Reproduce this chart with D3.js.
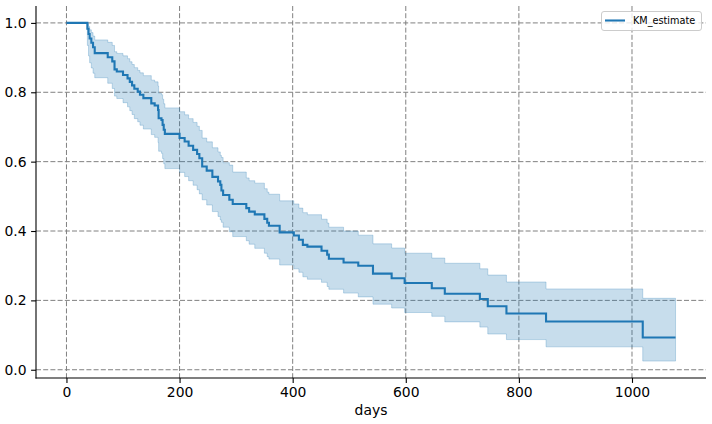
<!DOCTYPE html>
<html>
<head>
<meta charset="utf-8">
<script src="https://cdn.jsdelivr.net/npm/d3@7"></script>
<style>
  body { margin: 0; background: #fff; }
  svg { display: block; font-family: "DejaVu Sans", sans-serif; }
</style>
</head>
<body>
<svg id="drawing_region"></svg>
<script>
// KM estimate, step times (days) with survival and confidence band
var times = [0, 37, 39, 41, 44, 47, 50, 73, 81, 85, 89, 100, 108, 112, 116, 120, 126, 130, 136,
    150, 156, 162, 163, 168, 170, 172, 174, 200, 209, 216, 224, 231, 235, 240, 248, 258,
    268, 272, 274, 277, 288, 294, 318, 323, 333, 350, 355, 358, 377, 402, 411, 418, 426,
    451, 461, 464, 490, 516, 542, 575, 598, 646, 669, 731, 745, 778, 848, 1019];
var survival = [1.0, 0.983, 0.968, 0.955, 0.943, 0.930, 0.913, 0.901, 0.889, 0.866, 0.860, 0.850,
    0.840, 0.830, 0.820, 0.810, 0.802, 0.793, 0.783, 0.768, 0.762, 0.749, 0.725, 0.720, 0.706,
    0.692, 0.680, 0.668, 0.658, 0.646, 0.634, 0.622, 0.610, 0.586, 0.574, 0.556, 0.543, 0.533,
    0.517, 0.504, 0.490, 0.478, 0.466, 0.456, 0.448, 0.435, 0.424, 0.415, 0.396, 0.387, 0.375,
    0.360, 0.355, 0.343, 0.332, 0.320, 0.309, 0.300, 0.277, 0.264, 0.250, 0.235, 0.219, 0.204,
    0.183, 0.162, 0.139, 0.093];
var ciUpper = [1.0, 0.998, 0.990, 0.980, 0.972, 0.962, 0.951, 0.944, 0.935, 0.917, 0.912, 0.905,
    0.897, 0.888, 0.880, 0.871, 0.863, 0.856, 0.848, 0.835, 0.830, 0.818, 0.797, 0.793, 0.780,
    0.767, 0.755, 0.744, 0.735, 0.724, 0.713, 0.702, 0.690, 0.668, 0.657, 0.640, 0.628, 0.618,
    0.612, 0.597, 0.590, 0.570, 0.553, 0.545, 0.538, 0.522, 0.512, 0.506, 0.487, 0.478, 0.466,
    0.453, 0.447, 0.434, 0.423, 0.411, 0.400, 0.388, 0.363, 0.351, 0.336, 0.322, 0.307, 0.291,
    0.273, 0.253, 0.233, 0.206];
var ciLower = [1.0, 0.935, 0.905, 0.885, 0.870, 0.855, 0.842, 0.826, 0.811, 0.789, 0.782, 0.770,
    0.758, 0.747, 0.736, 0.724, 0.715, 0.705, 0.694, 0.678, 0.670, 0.655, 0.630, 0.624, 0.609,
    0.594, 0.580, 0.569, 0.557, 0.545, 0.532, 0.519, 0.507, 0.490, 0.475, 0.456, 0.442, 0.432,
    0.425, 0.411, 0.398, 0.384, 0.372, 0.362, 0.350, 0.336, 0.326, 0.319, 0.302, 0.291, 0.281,
    0.268, 0.261, 0.252, 0.240, 0.232, 0.221, 0.210, 0.189, 0.178, 0.165, 0.154, 0.138, 0.123,
    0.103, 0.087, 0.066, 0.025];
var endTime = 1077;

var xTicks = [0, 200, 400, 600, 800, 1000];
var yTicks = [0.0, 0.2, 0.4, 0.6, 0.8, 1.0];

var width = 712;
var height = 424;
var box = {left: 36, right: 706, top: 6, bottom: 378};

var svg = d3.select('#drawing_region')
    .attr('width', width)
    .attr('height', height);

const xscale = d3.scaleLinear()
      .domain([-53.85, 1130.85])
      .range([box.left, box.right]);

const yscale = d3.scaleLinear()
      .domain([-0.0238, 1.04875])
      .range([box.bottom, box.top]);

var rows = times.map((t, i) => ({t: t, s: survival[i], u: ciUpper[i], l: ciLower[i]}));
var last = rows[rows.length - 1];
rows.push({t: endTime, s: last.s, u: last.u, l: last.l});

// grid
svg.append('g').selectAll('line')
    .data(yTicks).join('line')
    .attr('x1', box.left).attr('x2', box.right)
    .attr('y1', d => yscale(d)).attr('y2', d => yscale(d))
    .attr('stroke', '#808080').attr('stroke-width', 1)
    .attr('stroke-dasharray', '5,2.2');
svg.append('g').selectAll('line')
    .data(xTicks).join('line')
    .attr('y1', box.top).attr('y2', box.bottom)
    .attr('x1', d => xscale(d)).attr('x2', d => xscale(d))
    .attr('stroke', '#808080').attr('stroke-width', 1)
    .attr('stroke-dasharray', '5,2.2');

// confidence band
const band = d3.area()
      .curve(d3.curveStepAfter)
      .x(d => xscale(d.t))
      .y0(d => yscale(d.l))
      .y1(d => yscale(d.u));

svg.append('path')
    .attr('d', band(rows))
    .attr('fill', '#1f77b4')
    .attr('fill-opacity', 0.25)
    .attr('stroke', '#1f77b4')
    .attr('stroke-opacity', 0.25)
    .attr('stroke-width', 1);

// estimate
const line = d3.line()
      .curve(d3.curveStepAfter)
      .x(d => xscale(d.t))
      .y(d => yscale(d.s));

svg.append('path')
    .attr('d', line(rows))
    .attr('stroke', '#1f77b4')
    .attr('stroke-width', 2.1)
    .attr('fill', 'none');

// axes
const xaxis = d3.axisBottom(xscale)
      .tickValues(xTicks)
      .tickFormat(d3.format('d'))
      .tickSize(4.9)
      .tickPadding(4.5)
      .tickSizeOuter(0);

const yaxis = d3.axisLeft(yscale)
      .tickValues(yTicks)
      .tickFormat(d3.format('.1f'))
      .tickSize(4.9)
      .tickPadding(4.5)
      .tickSizeOuter(0);

const xaxis_group = svg.append('g')
      .attr('transform', `translate(0, ${box.bottom})`)
      .call(xaxis);

const yaxis_group = svg.append('g')
      .attr('transform', `translate(${box.left}, 0)`)
      .call(yaxis);

[xaxis_group, yaxis_group].forEach(g => {
    g.selectAll('text')
        .attr('fill', '#000')
        .style('font-family', '"DejaVu Sans", sans-serif')
        .style('font-size', '13.9px');
    g.selectAll('line').attr('stroke', '#000').attr('stroke-width', 1.1);
    g.select('.domain').remove();
});

// spines (left and bottom only)
svg.append('line')
    .attr('x1', box.left).attr('x2', box.left)
    .attr('y1', box.top).attr('y2', box.bottom + 0.5)
    .attr('stroke', '#000').attr('stroke-width', 1.1);
svg.append('line')
    .attr('x1', box.left - 0.5).attr('x2', box.right)
    .attr('y1', box.bottom).attr('y2', box.bottom)
    .attr('stroke', '#000').attr('stroke-width', 1.1);

svg.append('text')
    .attr('x', (box.left + box.right) / 2)
    .attr('y', 415)
    .attr('text-anchor', 'middle')
    .style('font-size', '13.9px')
    .text('days');

// legend
var legend = svg.append('g');
legend.append('rect')
    .attr('x', 601.5).attr('y', 11.5)
    .attr('width', 100).attr('height', 19)
    .attr('rx', 2.5)
    .attr('fill', '#fff').attr('fill-opacity', 0.8)
    .attr('stroke', '#cccccc').attr('stroke-width', 1);
legend.append('line')
    .attr('x1', 605).attr('x2', 625)
    .attr('y1', 20.5).attr('y2', 20.5)
    .attr('stroke', '#1f77b4').attr('stroke-width', 2.1);
legend.append('text')
    .attr('x', 633).attr('y', 24)
    .style('font-size', '9.7px')
    .text('KM_estimate');
</script>
</body>
</html>
